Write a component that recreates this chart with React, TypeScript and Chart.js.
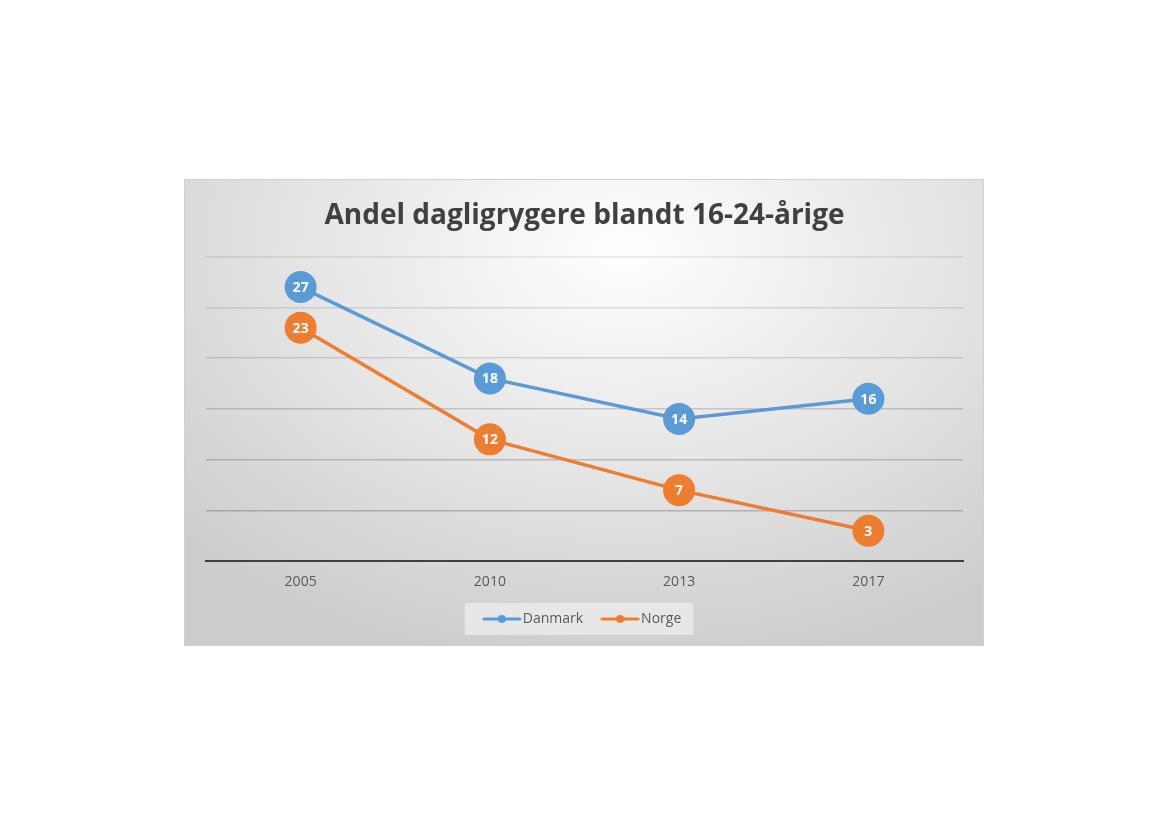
import React, { useEffect, useRef } from "react";
import { Chart, registerables } from "chart.js";

Chart.register(...registerables);

const TITLE = "Andel dagligrygere blandt 16-24-årige";
const YEARS = ["2005", "2010", "2013", "2017"];
const DANMARK = [27, 18, 14, 16];
const NORGE = [23, 12, 7, 3];
const SERIES_NAMES = ["Danmark", "Norge"];

const BLUE = "#5B9BD5";
const ORANGE = "#ED7D31";
const FONT = "'Open Sans', 'Noto Sans', sans-serif";

function legendIcon(color: string): HTMLCanvasElement {
  const c = document.createElement("canvas");
  c.width = 40;
  c.height = 10;
  const ctx = c.getContext("2d")!;
  ctx.strokeStyle = color;
  ctx.lineWidth = 3;
  ctx.lineCap = "round";
  ctx.beginPath();
  ctx.moveTo(2, 5);
  ctx.lineTo(38, 5);
  ctx.stroke();
  ctx.fillStyle = color;
  ctx.beginPath();
  ctx.arc(20, 5, 4, 0, Math.PI * 2);
  ctx.fill();
  return c;
}

const dataLabels = {
  id: "dataLabels",
  afterDatasetsDraw(chart: any) {
    const ctx = chart.ctx;
    ctx.save();
    ctx.fillStyle = "#ffffff";
    ctx.font = `bold 14px ${FONT}`;
    ctx.textAlign = "center";
    ctx.textBaseline = "middle";
    chart.data.datasets.forEach((ds: any, i: number) => {
      const meta = chart.getDatasetMeta(i);
      meta.data.forEach((pt: any, j: number) => {
        ctx.fillText(String(ds.data[j]), pt.x, pt.y + 1);
      });
    });
    ctx.restore();
  },
};

const legendBox = {
  id: "legendBox",
  beforeDraw(chart: any) {
    const lg = chart.legend;
    if (!lg || !lg.legendHitBoxes || !lg.legendHitBoxes.length) return;
    const hb = lg.legendHitBoxes;
    const left = Math.min(...hb.map((h: any) => h.left)) - 23;
    const right = Math.max(...hb.map((h: any) => h.left + h.width)) + 12;
    const cy = hb[0].top + hb[0].height / 2;
    const ctx = chart.ctx;
    ctx.save();
    ctx.fillStyle = "rgba(240,240,240,0.7)";
    ctx.fillRect(left, cy - 16, right - left, 32);
    ctx.restore();
  },
};

export default function App() {
  const ref = useRef<HTMLCanvasElement | null>(null);

  useEffect(() => {
    if (!ref.current) return;
    const icons = [legendIcon(BLUE), legendIcon(ORANGE)];
    const chart = new Chart(ref.current, {
      type: "line",
      data: {
        labels: YEARS,
        datasets: [
          {
            label: SERIES_NAMES[0],
            data: DANMARK,
            borderColor: BLUE,
            backgroundColor: BLUE,
            pointBackgroundColor: BLUE,
            pointBorderColor: BLUE,
            borderWidth: 3.5,
            pointRadius: 16,
            pointBorderWidth: 0,
          },
          {
            label: SERIES_NAMES[1],
            data: NORGE,
            borderColor: ORANGE,
            backgroundColor: ORANGE,
            pointBackgroundColor: ORANGE,
            pointBorderColor: ORANGE,
            borderWidth: 3.5,
            pointRadius: 16,
            pointBorderWidth: 0,
          },
        ],
      },
      options: {
        responsive: false,
        animation: false,
        layout: { padding: { left: 22, right: 21, top: 0, bottom: 10 } },
        plugins: {
          title: {
            display: true,
            text: TITLE,
            color: "#404040",
            font: { family: FONT, size: 28, weight: "bold" },
            padding: { top: 20, bottom: 24 },
          },
          legend: {
            display: true,
            position: "bottom",
            labels: {
              usePointStyle: true,
              pointStyleWidth: 28,
              color: "#595959",
              font: { family: FONT, size: 14 },
              padding: 23,
              generateLabels: (ch: any) => {
                const items = Chart.defaults.plugins.legend.labels.generateLabels(ch);
                items.forEach((it: any, i: number) => {
                  it.pointStyle = icons[i];
                });
                return items;
              },
            },
          },
          tooltip: { enabled: false },
        },
        scales: {
          x: {
            offset: true,
            grid: { display: false, drawTicks: false },
            border: { display: true, color: "#404040", width: 2 },
            ticks: {
              color: "#595959",
              font: { family: FONT, size: 14 },
              padding: 12,
            },
            afterFit: (scale: any) => {
              scale.height -= 13;
            },
          },
          y: {
            min: 0,
            max: 30,
            grid: {
              color: (c: any) =>
                `rgba(0,0,0,${0.09 + 0.14 * (1 - (c.tick ? c.tick.value : 0) / 30)})`,
              lineWidth: 1.5,
              drawTicks: false,
            },
            border: { display: false },
            ticks: { display: false, stepSize: 5 },
          },
        },
      },
      plugins: [dataLabels, legendBox],
    });
    return () => chart.destroy();
  }, []);

  return (
    <div
      style={{
        position: "absolute",
        left: 184,
        top: 179,
        width: 800,
        height: 467,
        background:
          "radial-gradient(ellipse 75% 90% at 55% 15%, #ffffff 0%, #f4f4f4 22%, #e4e4e4 55%, #cdcdcd 100%)",
        boxShadow: "inset 0 0 0 1px #d0d0d0",
      }}
    >
      <canvas ref={ref} width={800} height={467} style={{ display: "block" }} />
    </div>
  );
}
